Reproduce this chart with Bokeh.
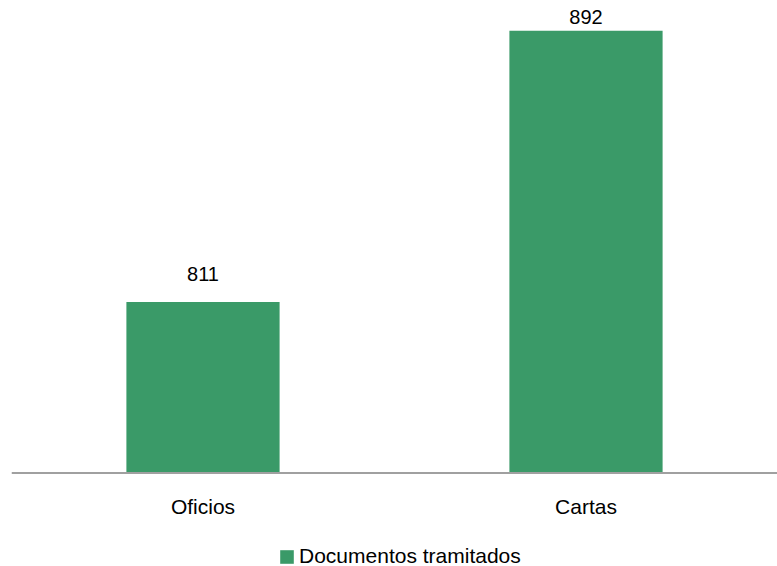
from bokeh.plotting import figure
from bokeh.models import ColumnDataSource, FactorRange, Range1d, Legend, LegendItem, Span
from bokeh.core.properties import value
from bokeh.embed import file_html
from bokeh.resources import INLINE

# --- data ---
categories = ["Oficios", "Cartas"]
documentos = [811, 892]
series_name = "Documentos tramitados"
axis_base = 760  # value axis starts here (truncated axis in the reference)

# --- styling (screen offsets for the value labels, px) ---
label_offsets = [-28, -14]
GREEN = "#3A9A68"
FONT = "Liberation Sans"

src = ColumnDataSource(dict(cat=categories, val=documentos,
                            lbl=[str(v) for v in documentos],
                            off=label_offsets,
                            base=[axis_base] * len(categories)))

p = figure(x_range=FactorRange(*categories), y_range=Range1d(732.1, 901.0),
           width=777, height=566, output_backend="svg", toolbar_location=None,
           x_axis_location=None, y_axis_location=None,
           min_border_left=11, min_border_right=0,
           min_border_top=0, min_border_bottom=0)
p.outline_line_color = None
p.xgrid.grid_line_color = None
p.ygrid.grid_line_color = None
p.background_fill_color = "white"
p.border_fill_color = "white"

bars = p.vbar(x="cat", top="val", bottom=axis_base, width=0.4, source=src,
              fill_color=GREEN, line_color=None)

# baseline (category axis line)
p.add_layout(Span(location=axis_base, dimension="width",
                  line_color="#A0A0A0", line_width=2))

# value labels
p.text(x="cat", y="val", text="lbl", y_offset="off", source=src,
       text_align="center", text_baseline="middle",
       text_font=value(FONT), text_font_size="20px", text_color="#000000")

# category labels
p.text(x="cat", y="base", text="cat", y_offset=33, source=src,
       text_align="center", text_baseline="middle",
       text_font=value(FONT), text_font_size="21px", text_color="#000000")

legend = Legend(items=[LegendItem(label=series_name, renderers=[bars])],
                location=(267, -2), orientation="horizontal",
                padding=0, margin=0, spacing=0,
                glyph_width=17, glyph_height=17, label_height=14,
                label_standoff=4,
                label_text_font=FONT, label_text_font_size="21px",
                label_text_color="#000000",
                border_line_alpha=0, background_fill_alpha=0)
p.add_layout(legend, "center")

open("out.html", "w").write(file_html(p, INLINE))
